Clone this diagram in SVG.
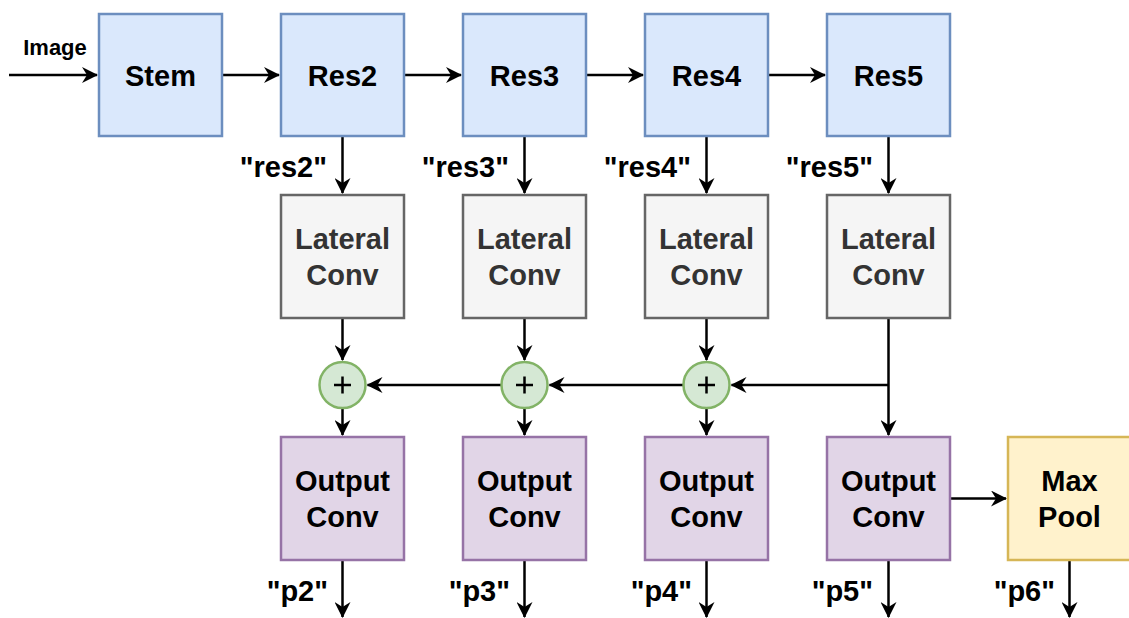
<svg xmlns="http://www.w3.org/2000/svg" width="1129" height="618" viewBox="0 0 1129 618">
<style>
.t{font-family:"Liberation Sans",Arial,sans-serif;font-weight:bold;font-size:29px;fill:#000;text-anchor:middle}
.lab{font-family:"Liberation Sans",Arial,sans-serif;font-weight:bold;font-size:29px;fill:#000;text-anchor:end}
.gray{fill:#333333}
.blue{fill:#dae8fc;stroke:#6c8ebf;stroke-width:2.5}
.grey{fill:#f5f5f5;stroke:#666666;stroke-width:2.5}
.purp{fill:#e1d5e7;stroke:#9673a6;stroke-width:2.5}
.yel{fill:#fff2cc;stroke:#d6b656;stroke-width:2.5}
.grn{fill:#d5e8d4;stroke:#82b366;stroke-width:2.5}
.e{fill:none;stroke:#000;stroke-width:2.5;marker-end:url(#arr)}
.plus{stroke:#000;stroke-width:2.5}
</style>
<defs>
<marker id="arr" viewBox="0 0 16 16" refX="15" refY="8" markerWidth="16" markerHeight="16" markerUnits="userSpaceOnUse" orient="auto">
<path d="M0,0 L16,8 L0,16 L5,8 z" fill="#000"/>
</marker>
</defs>
<rect width="1129" height="618" fill="#fff"/>
<g id="connectors">
<line class="e" x1="9" y1="75" x2="97" y2="75"/>
<line class="e" x1="222" y1="75" x2="279" y2="75"/>
<line class="e" x1="404" y1="75" x2="461" y2="75"/>
<line class="e" x1="586" y1="75" x2="643" y2="75"/>
<line class="e" x1="768" y1="75" x2="825" y2="75"/>
<line class="e" x1="342.5" y1="136" x2="342.5" y2="193"/>
<line class="e" x1="524.5" y1="136" x2="524.5" y2="193"/>
<line class="e" x1="706.5" y1="136" x2="706.5" y2="193"/>
<line class="e" x1="888.5" y1="136" x2="888.5" y2="193"/>
<line class="e" x1="342.5" y1="318" x2="342.5" y2="360"/>
<line class="e" x1="524.5" y1="318" x2="524.5" y2="360"/>
<line class="e" x1="706.5" y1="318" x2="706.5" y2="360"/>
<line class="e" x1="888.5" y1="318" x2="888.5" y2="435"/>
<line class="e" x1="888.5" y1="385" x2="731.5" y2="385"/>
<line class="e" x1="683.5" y1="385" x2="549.5" y2="385"/>
<line class="e" x1="501.5" y1="385" x2="367.5" y2="385"/>
<line class="e" x1="342.5" y1="408" x2="342.5" y2="435"/>
<line class="e" x1="524.5" y1="408" x2="524.5" y2="435"/>
<line class="e" x1="706.5" y1="408" x2="706.5" y2="435"/>
<line class="e" x1="950" y1="498.5" x2="1006" y2="498.5"/>
<line class="e" x1="342.5" y1="560" x2="342.5" y2="617"/>
<line class="e" x1="524.5" y1="560" x2="524.5" y2="617"/>
<line class="e" x1="706.5" y1="560" x2="706.5" y2="617"/>
<line class="e" x1="888.5" y1="560" x2="888.5" y2="617"/>
<line class="e" x1="1069.5" y1="560" x2="1069.5" y2="617"/>
</g>
<g id="labels">
<text class="t" x="55" y="55" style="font-size:22px">Image</text>
<text class="lab" x="327" y="177">"res2"</text>
<text class="lab" x="509" y="177">"res3"</text>
<text class="lab" x="691" y="177">"res4"</text>
<text class="lab" x="873" y="177">"res5"</text>
<text class="lab" x="328" y="601">"p2"</text>
<text class="lab" x="510" y="601">"p3"</text>
<text class="lab" x="692" y="601">"p4"</text>
<text class="lab" x="873" y="601">"p5"</text>
<text class="lab" x="1055" y="601">"p6"</text>
</g>
<g id="stem"><rect class="blue" x="99" y="14" width="123" height="122"/><text class="t" x="160.5" y="86">Stem</text></g>
<g id="res2"><rect class="blue" x="281" y="14" width="123" height="122"/><text class="t" x="342.5" y="86">Res2</text></g>
<g id="res3"><rect class="blue" x="463" y="14" width="123" height="122"/><text class="t" x="524.5" y="86">Res3</text></g>
<g id="res4"><rect class="blue" x="645" y="14" width="123" height="122"/><text class="t" x="706.5" y="86">Res4</text></g>
<g id="res5"><rect class="blue" x="827" y="14" width="123" height="122"/><text class="t" x="888.5" y="86">Res5</text></g>
<g id="lat2"><rect class="grey" x="281" y="195" width="123" height="123"/><text class="t gray" x="342.5" y="249">Lateral</text><text class="t gray" x="342.5" y="285">Conv</text></g>
<g id="lat3"><rect class="grey" x="463" y="195" width="123" height="123"/><text class="t gray" x="524.5" y="249">Lateral</text><text class="t gray" x="524.5" y="285">Conv</text></g>
<g id="lat4"><rect class="grey" x="645" y="195" width="123" height="123"/><text class="t gray" x="706.5" y="249">Lateral</text><text class="t gray" x="706.5" y="285">Conv</text></g>
<g id="lat5"><rect class="grey" x="827" y="195" width="123" height="123"/><text class="t gray" x="888.5" y="249">Lateral</text><text class="t gray" x="888.5" y="285">Conv</text></g>
<g id="sum2"><circle class="grn" cx="342.5" cy="385" r="23"/><path class="plus" d="M334,385 H351 M342.5,376.5 V393.5"/></g>
<g id="sum3"><circle class="grn" cx="524.5" cy="385" r="23"/><path class="plus" d="M516,385 H533 M524.5,376.5 V393.5"/></g>
<g id="sum4"><circle class="grn" cx="706.5" cy="385" r="23"/><path class="plus" d="M698,385 H715 M706.5,376.5 V393.5"/></g>
<g id="out2"><rect class="purp" x="281" y="437" width="123" height="123"/><text class="t" x="342.5" y="491">Output</text><text class="t" x="342.5" y="527">Conv</text></g>
<g id="out3"><rect class="purp" x="463" y="437" width="123" height="123"/><text class="t" x="524.5" y="491">Output</text><text class="t" x="524.5" y="527">Conv</text></g>
<g id="out4"><rect class="purp" x="645" y="437" width="123" height="123"/><text class="t" x="706.5" y="491">Output</text><text class="t" x="706.5" y="527">Conv</text></g>
<g id="out5"><rect class="purp" x="827" y="437" width="123" height="123"/><text class="t" x="888.5" y="491">Output</text><text class="t" x="888.5" y="527">Conv</text></g>
<g id="maxpool"><rect class="yel" x="1008" y="437" width="123" height="123"/><text class="t" x="1069.5" y="491">Max</text><text class="t" x="1069.5" y="527">Pool</text></g>
</svg>
